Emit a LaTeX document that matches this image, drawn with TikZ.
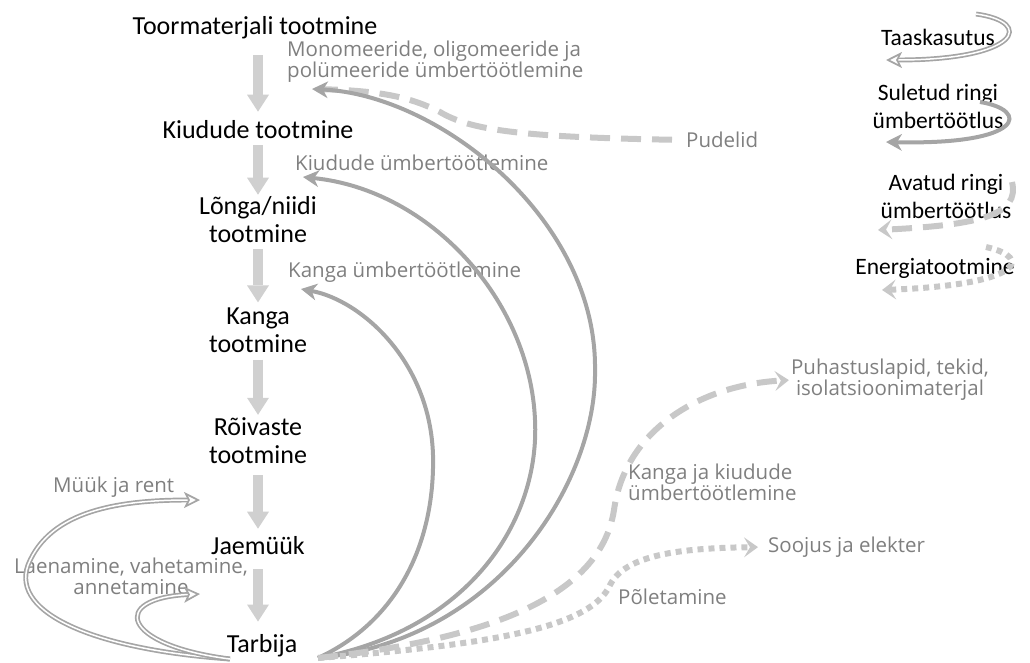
\documentclass[tikz,border=0pt]{standalone}
\usepackage{fontspec}
\setmainfont{Carlito}
\newfontfamily\notefont{Open Sans}
\usetikzlibrary{arrows.meta,calc}
\definecolor{loopgray}{HTML}{A5A5A5}
\definecolor{flowgray}{HTML}{D0D0D0}
\definecolor{opengray}{HTML}{C8C8C8}
\definecolor{notegray}{HTML}{7F7F7F}

\begin{document}
\begin{tikzpicture}[x=1pt, y=-1pt,
            stage/.style = {font=\fontsize{26}{28}\selectfont, align=center, inner sep=0pt},
            legend/.style = {font=\fontsize{23.5}{28}\selectfont, align=center, inner sep=0pt},
            note/.style = {font=\notefont\fontsize{20.5}{21}\selectfont, text=notegray, align=left, inner sep=0pt},
            flow/.style = {draw=flowgray, line width=10pt, -{Triangle[length=17pt,width=22pt,line width=0pt]}},
            reuse/.style = {draw=loopgray, line width=1.7pt, double=white, double distance=1.5pt, -{Stealth[length=16pt,width=16pt,inset=4pt,fill=white]}},
            closedloop/.style = {draw=loopgray, line width=4pt, -{Stealth[length=16pt,width=17pt,inset=5pt,line width=0pt]}},
            openloop/.style = {draw=opengray, line width=6pt, dash pattern=on 20pt off 11pt, -{Stealth[length=14pt,width=20pt,inset=6pt,line width=0pt]}},
            energy/.style = {draw=opengray, line width=6pt, dash pattern=on 6pt off 5pt, -{Stealth[length=14pt,width=20pt,inset=6pt,line width=0pt]}}
            ]
            \useasboundingbox (0,0) rectangle (1030,662);

            % production chain
            \node[stage] (toor) at (255,28) {Toormaterjali tootmine};
            \node[stage] (kiud) at (258,130) {Kiudude tootmine};
            \node[stage] (longa) at (258,220) {Lõnga/niidi\\tootmine};
            \node[stage] (kanga) at (258,330) {Kanga\\tootmine};
            \node[stage] (roiv) at (258,441) {Rõivaste\\tootmine};
            \node[stage] (jaem) at (258,546) {Jaemüük};
            \node[stage] (tarb) at (262,646) {Tarbija};

            \draw[flow, shorten <=16pt, shorten >=9pt] (toor.south -| kiud) -- (kiud);
            \draw[flow, shorten <=6pt, shorten >=2pt] (kiud) -- (longa);
            \draw[flow, shorten <=6pt, shorten >=5pt] (longa) -- (kanga);
            \draw[flow, shorten <=7pt, shorten >=3pt] (kanga) -- (roiv);
            \draw[flow, shorten <=11pt, shorten >=8pt] (roiv) -- (jaem);
            \draw[flow, shorten <=14pt, shorten >=13pt] (jaem) -- (tarb.north -| jaem);

            % labels
            \node[note, anchor=west] (mono) at (287,62) {Monomeeride, oligomeeride ja\\polümeeride ümbertöötlemine};
            \node[note, anchor=west] (pud) at (686,140) {Pudelid};
            \node[note, anchor=west] (kiudu) at (295,163) {Kiudude ümbertöötlemine};
            \node[note, anchor=west] (kangu) at (288,272) {Kanga ümbertöötlemine};
            \node[note, align=center] (puh) at (890,380) {Puhastuslapid, tekid,\\isolatsioonimaterjal};
            \node[note, anchor=west] (kjk) at (628,482) {Kanga ja kiudude\\ümbertöötlemine};
            \node[note, anchor=west] (sooj) at (768,547) {Soojus ja elekter};
            \node[note, anchor=west] (polet) at (618,597) {Põletamine};
            \node[note, anchor=west] (muuk) at (53,487) {Müük ja rent};
            \node[note, align=center] (laen) at (131,576) {Laenamine, vahetamine,\\annetamine};

            % legend
            \node[legend] (taas) at (938,37) {Taaskasutus};
            \node[legend] (sul) at (938,106) {Suletud ringi\\ümbertöötlus};
            \node[legend] (ava) at (946,196) {Avatud ringi\\ümbertöötlus};
            \node[legend] (ener) at (935,268) {Energiatootmine};

            \draw[reuse] (976,14) .. controls (1035,22) and (1020,60) .. (886,60);
            \draw[closedloop] (980,102) .. controls (1030,110) and (1025,145) .. (886,142);
            \draw[openloop] (1012,182) .. controls (1020,215) and (980,225) .. (878,230);
            \draw[energy] (986,247) .. controls (1035,258) and (1020,285) .. (882,290);

            % loops back from the consumer
            \coordinate (src) at (318,658);
            \coordinate (lsrc) at (230,659);
            \coordinate (monotip) at (312,89);
            \coordinate (kiudtip) at (303,177);
            \coordinate (kangtip) at (301,289);
            \coordinate (muuktip) at (200,500);
            \coordinate (laentip) at (200,594);

            \draw[opengray, line width=6pt, dash pattern=on 20pt off 11pt, shorten <=14pt] (pud.west) .. controls (520,137) and (470,130) .. (440,112)
                .. controls (410,97) and (380,90) .. (monotip);
            \draw[closedloop] (src) .. controls (500,640) and (597,480) .. (595,370)
                .. controls (597,220) and (440,95) .. (monotip);
            \draw[closedloop] (src) .. controls (470,630) and (540,520) .. (535,420)
                .. controls (530,300) and (430,190) .. (kiudtip);
            \draw[closedloop] (src) .. controls (400,620) and (435,540) .. (433,455)
                .. controls (430,360) and (360,300) .. (kangtip);
            \draw[openloop, shorten >=2pt] (src) .. controls (480,640) and (600,600) .. (614,510)
                .. controls (625,430) and (700,385) .. (puh.west);
            \draw[energy, shorten >=10pt] (src) .. controls (480,645) and (590,630) .. (610,585)
                .. controls (625,555) and (680,548) .. (sooj.west);

            \draw[reuse] (lsrc) .. controls (100,650) and (10,615) .. (28,565)
                .. controls (50,510) and (120,500) .. (muuktip);
            \draw[reuse] (lsrc) .. controls (120,645) and (110,598) .. (laentip);
\end{tikzpicture}
\end{document}
